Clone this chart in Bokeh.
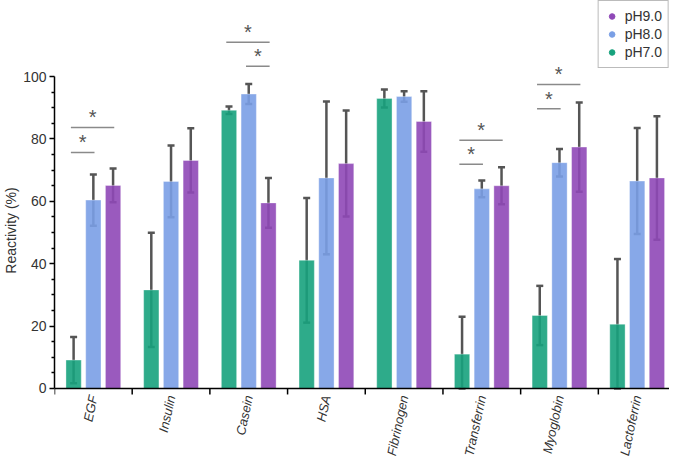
from bokeh.plotting import figure
from bokeh.models import (Range1d, FixedTicker, ColumnDataSource, Whisker, TeeHead,
                          Legend, LegendItem, Span)
from bokeh.embed import file_html
from bokeh.resources import INLINE
from bokeh.core.properties import value

# ---------------- data ----------------
proteins = ["EGF", "Insulin", "Casein", "HSA", "Fibrinogen", "Transferrin", "Myoglobin", "Lactoferrin"]
series = ["pH7.0", "pH8.0", "pH9.0"]
ph70 = [9.1, 31.6, 89.2, 41.1, 93.0, 11.0, 23.4, 20.6]
ph70_err = [7.4, 18.3, 1.2, 20.0, 2.9, 12.0, 9.5, 20.9]
ph80 = [60.4, 66.4, 94.4, 67.5, 93.6, 64.0, 72.4, 66.5]
ph80_err = [8.2, 11.5, 3.2, 24.5, 1.7, 2.7, 4.4, 17.0]
ph90 = [65.1, 73.1, 59.5, 72.1, 85.6, 65.0, 77.4, 67.5]
ph90_err = [5.4, 10.3, 8.0, 17.0, 9.7, 5.9, 14.3, 19.8]

y_ticks = [0, 20, 40, 60, 80, 100]
y_minor_ticks = [5, 10, 15, 25, 30, 35, 45, 50, 55, 65, 70, 75, 85, 90, 95]

# significance brackets
sig_protein = ["EGF", "EGF", "Casein", "Casein", "Transferrin", "Transferrin", "Myoglobin", "Myoglobin"]
sig_from = ["pH7.0", "pH7.0", "pH7.0", "pH8.0", "pH7.0", "pH7.0", "pH7.0", "pH7.0"]
sig_to = ["pH9.0", "pH8.0", "pH9.0", "pH9.0", "pH9.0", "pH8.0", "pH9.0", "pH8.0"]
sig_y = [83.7, 75.7, 111.0, 103.3, 79.6, 71.9, 97.5, 89.7]

# ---------------- style ----------------
colors = {"pH7.0": "#17a27d", "pH8.0": "#7a9fe5", "pH9.0": "#8f48b7"}
offsets = {"pH7.0": -0.254, "pH8.0": 0.0, "pH9.0": 0.254}
bar_w = 0.197
FONT = "Liberation Sans"
W, H = 669, 460
Y0, Y1 = -23.1, 124.4
PX_PER_UNIT = H / (Y1 - Y0)
TICK_PX = 6

p = figure(width=W, height=H, x_range=Range1d(0, 7.916), y_range=Range1d(Y0, Y1),
           output_backend="svg", toolbar_location=None,
           min_border_left=46, min_border_right=0, min_border_top=0, min_border_bottom=0)
p.outline_line_color = None
p.xgrid.visible = False
p.ygrid.visible = False
p.xaxis.visible = False

vals = {"pH7.0": (ph70, ph70_err), "pH8.0": (ph80, ph80_err), "pH9.0": (ph90, ph90_err)}
centers = [i + 0.5 for i in range(len(proteins))]

for s in series:
    v, e = vals[s]
    xs = [c + offsets[s] for c in centers]
    src = ColumnDataSource(dict(x=xs, top=v,
                                upper=[a + b for a, b in zip(v, e)],
                                lower=[max(0.0, a - b) for a, b in zip(v, e)]))
    w = Whisker(source=src, base="x", upper="upper", lower="lower", dimension="height",
                line_color="#555555", line_width=2.5,
                upper_head=TeeHead(size=7, line_color="#555555", line_width=2.5),
                lower_head=TeeHead(size=7, line_color="#555555", line_width=2.5))
    w.level = "underlay"
    p.add_layout(w)
    p.vbar(x="x", top="top", bottom=0, width=bar_w, source=src,
           fill_color=colors[s], fill_alpha=0.9, line_color="white", line_alpha=0.35, line_width=1)

# x axis (baseline, boundary ticks and rotated category labels)
p.add_layout(Span(location=0, dimension="width", line_color="black", line_width=1.5))
bounds = list(range(len(proteins) + 1))
p.segment(x0=bounds, x1=bounds, y0=[0] * len(bounds), y1=[-TICK_PX / PX_PER_UNIT] * len(bounds),
          line_color="black", line_width=1.5)
p.text(x=centers, y=[0] * len(centers), text=proteins, angle=1.36, y_offset=7,
       text_align="right", text_baseline="middle",
       text_font=value(FONT), text_font_size=value("13px"),
       text_font_style="italic", text_color="#333333")

# significance brackets
pidx = {n: i for i, n in enumerate(proteins)}
x0 = [pidx[p_] + 0.5 + offsets[f] - 0.035 for p_, f in zip(sig_protein, sig_from)]
x1 = [pidx[p_] + 0.5 + offsets[t] + 0.015 for p_, t in zip(sig_protein, sig_to)]
p.segment(x0=x0, x1=x1, y0=sig_y, y1=sig_y, line_color="#8a8a8a", line_width=1.5)
p.text(x=[(a + b) / 2 for a, b in zip(x0, x1)], y=[y + 3.2 for y in sig_y], text=["*"] * len(sig_y),
       text_font=value(FONT), text_font_size=value("20px"), text_color="#555555",
       text_align="center", text_baseline="middle")

# legend (circle markers)
items = []
for s in ["pH9.0", "pH8.0", "pH7.0"]:
    r = p.scatter(x=[float("nan")], y=[float("nan")], marker="circle", size=8,
                  fill_color=colors[s], line_color=colors[s])
    items.append(LegendItem(label=s, renderers=[r]))
legend = Legend(items=items, location="top_right", margin=0, padding=6, spacing=0,
                label_height=18, glyph_height=18, glyph_width=14, label_standoff=6,
                label_text_font=FONT, label_text_font_size="14px", label_text_color="#333333",
                border_line_color="#777777", border_line_width=1, background_fill_alpha=1)
p.add_layout(legend)

# y axis
ya = p.yaxis[0]
ya.ticker = FixedTicker(ticks=y_ticks, minor_ticks=y_minor_ticks)
ya.bounds = (0, 100)
ya.axis_label = "Reactivity (%)"
ya.axis_label_text_font = FONT
ya.axis_label_text_font_size = "14px"
ya.axis_label_text_font_style = "normal"
ya.axis_label_text_color = "#333333"
ya.axis_label_standoff = 1
ya.major_label_text_font = FONT
ya.major_label_text_font_size = "14px"
ya.major_label_text_color = "#333333"
ya.major_label_standoff = 3
ya.axis_line_color = "black"
ya.axis_line_width = 1.5
ya.major_tick_line_color = "black"
ya.major_tick_line_width = 1.5
ya.major_tick_in = 0
ya.major_tick_out = 5
ya.minor_tick_line_color = "black"
ya.minor_tick_line_width = 1.5
ya.minor_tick_in = 0
ya.minor_tick_out = 3

open("out.html", "w").write(file_html(p, INLINE))
